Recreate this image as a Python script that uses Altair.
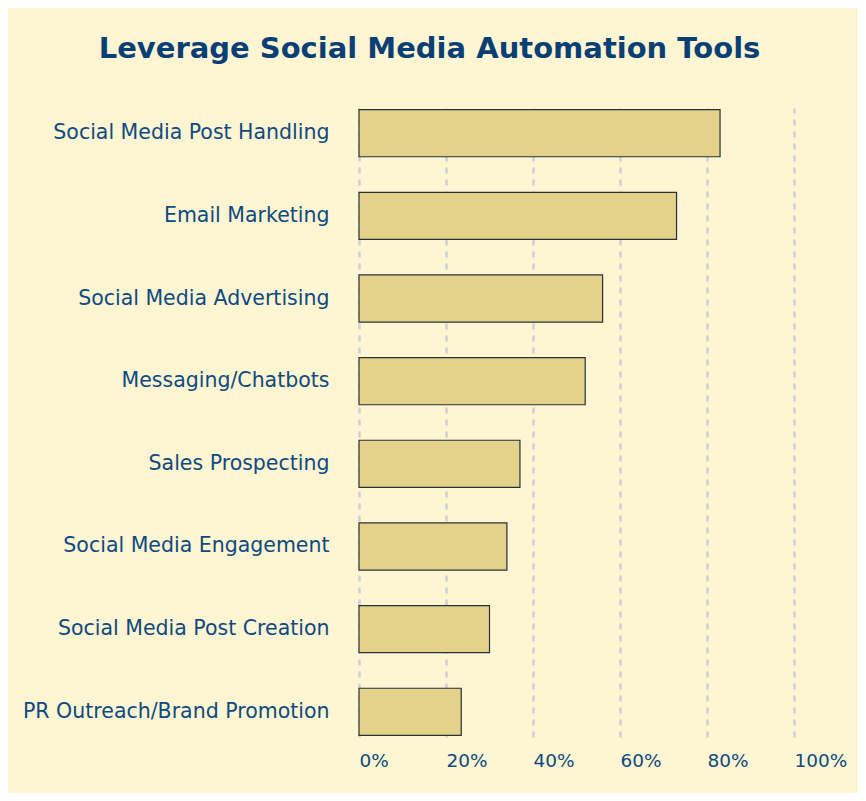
import altair as alt
import pandas as pd

categories = [
    "Social Media Post Handling",
    "Email Marketing",
    "Social Media Advertising",
    "Messaging/Chatbots",
    "Sales Prospecting",
    "Social Media Engagement",
    "Social Media Post Creation",
    "PR Outreach/Brand Promotion",
]
values = [83, 73, 56, 52, 37, 34, 30, 23.5]
tick_values = [0, 20, 40, 60, 80, 100]

df = pd.DataFrame({"category": categories, "value": values})

FONT = "DejaVu Sans"
TEXT = "#0E4A80"
BG = "#FEF5D3"

chart = (
    alt.Chart(df)
    .mark_bar(fill="#E4D28B", stroke="#263238", strokeWidth=1.2)
    .encode(
        y=alt.Y(
            "category:N",
            sort=categories,
            title=None,
            scale=alt.Scale(paddingInner=0.43, paddingOuter=0.02),
            axis=alt.Axis(
                ticks=False,
                domain=False,
                grid=False,
                labelPadding=30,
                labelFontSize=20.5,
                labelFont=FONT,
                labelColor=TEXT,
                labelLimit=400,
            ),
        ),
        x=alt.X(
            "value:Q",
            title=None,
            scale=alt.Scale(domain=[0, 100], nice=False),
            axis=alt.Axis(
                values=tick_values,
                labelExpr="datum.value + '%'",
                ticks=False,
                domain=False,
                grid=True,
                gridColor="#CFCFCF",
                gridWidth=2.5,
                gridDash=[6, 6],
                labelAlign="left",
                labelPadding=14,
                labelFontSize=18.5,
                labelFont=FONT,
                labelColor=TEXT,
            ),
        ),
    )
    .properties(
        width=435,
        height=629,
        title=alt.TitleParams(
            "Leverage Social Media Automation Tools",
            fontSize=29,
            font=FONT,
            fontWeight="bold",
            color="#0A3F76",
            anchor="middle",
            frame="group",
            dx=-147,
            offset=44,
        ),
        autosize=alt.AutoSizeParams(type="none"),
        padding={"left": 351, "top": 100, "right": 64, "bottom": 56},
        background=BG,
    )
    .configure_view(stroke=None)
)

chart.save("out.html", embed_options={"renderer": "svg", "actions": False})
